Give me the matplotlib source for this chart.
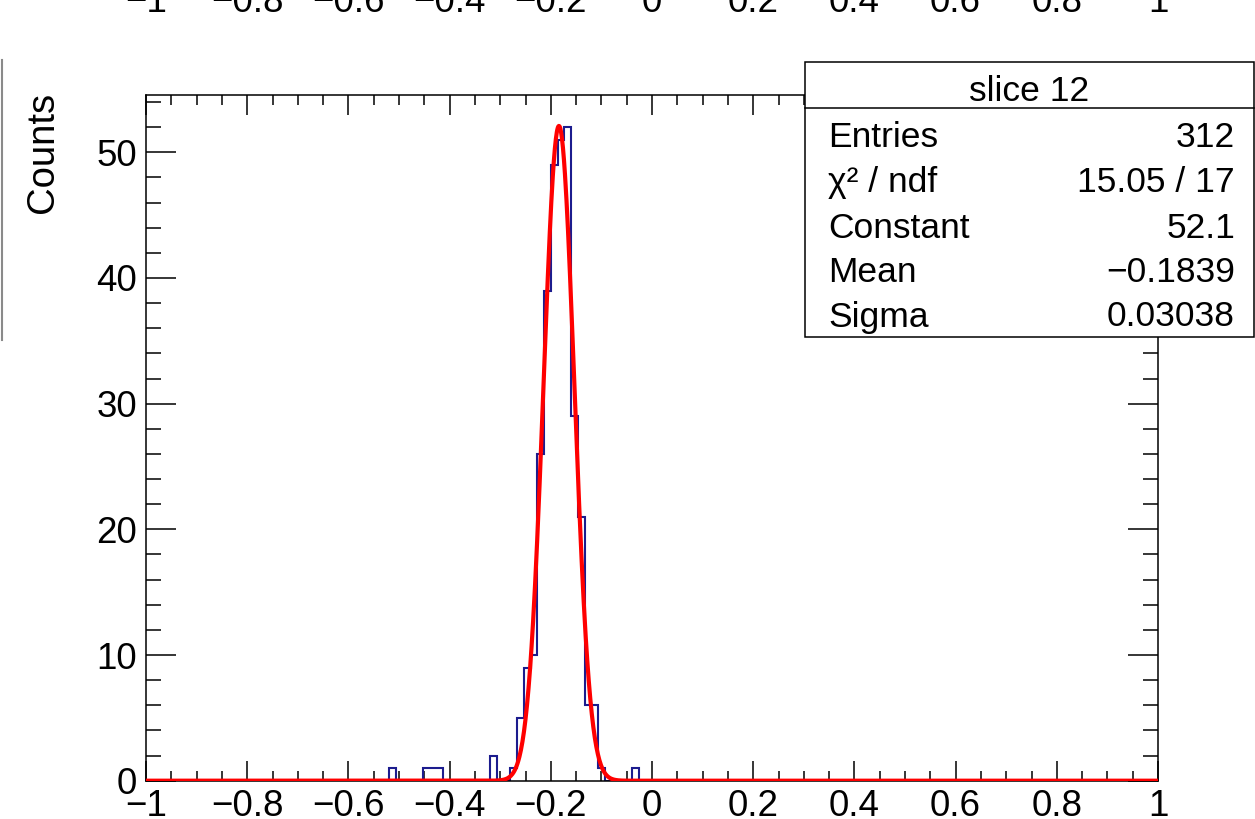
import numpy as np
import matplotlib
matplotlib.use("Agg")
import matplotlib.pyplot as plt
from matplotlib.ticker import MultipleLocator, FixedLocator
from matplotlib.patches import Rectangle
from matplotlib.lines import Line2D
from matplotlib.transforms import blended_transform_factory

plt.rcParams['font.family'] = ['Liberation Sans', 'DejaVu Sans']

# ---------------- data ----------------
n_bins = 150
x_min, x_max = -1.0, 1.0
filled_bins = [36, 41, 42, 43, 51, 54, 55, 56, 57, 58, 59, 60, 61, 62, 63, 64, 65, 66, 67, 72]
filled_counts = [1, 1, 1, 1, 2, 1, 5, 9, 10, 26, 39, 49, 51, 52, 29, 21, 6, 6, 1, 1]

fit_constant = 52.1
fit_mean = -0.1839
fit_sigma = 0.03038

x_ticks = [-1, -0.8, -0.6, -0.4, -0.2, 0, 0.2, 0.4, 0.6, 0.8, 1]
x_tick_labels = ["\u22121", "\u22120.8", "\u22120.6", "\u22120.4", "\u22120.2", "0",
                 "0.2", "0.4", "0.6", "0.8", "1"]
y_ticks = [0, 10, 20, 30, 40, 50]
y_max = 54.6

stats_title = "slice 12"
stats_names = ["Entries", "\u03c7\u00b2 / ndf", "Constant", "Mean", "Sigma"]
stats_values = ["312", "15.05 / 17", "52.1", "\u22120.1839", "0.03038"]
y_title = "Counts"

# ---------------- figure ----------------
W, H = 1255, 819
fig = plt.figure(figsize=(W / 100, H / 100), dpi=100)
fig.patch.set_facecolor("white")

def fx(px):
    return px / W

def fy(py):
    return 1 - py / H

ax = fig.add_axes([fx(146), fy(780.7), fx(1158) - fx(146), fy(94.5) - fy(780.7)])

counts = np.zeros(n_bins)
counts[filled_bins] = filled_counts
edges = np.linspace(x_min, x_max, n_bins + 1)
ax.stairs(counts, edges, color="#1c1c8e", lw=1.5, zorder=2)

x_fit = np.linspace(x_min, x_max, 2001)
y_fit = fit_constant * np.exp(-0.5 * ((x_fit - fit_mean) / fit_sigma) ** 2)
ax.plot(x_fit, y_fit, color="#ff0000", lw=3.0, zorder=3)

ax.set_xlim(x_min, x_max)
ax.set_ylim(0, y_max)

ax.xaxis.set_major_locator(FixedLocator(x_ticks))
ax.set_xticklabels(x_tick_labels)
ax.xaxis.set_minor_locator(MultipleLocator(0.05))
ax.yaxis.set_major_locator(FixedLocator(y_ticks))
ax.yaxis.set_minor_locator(MultipleLocator(2))

for s in ax.spines.values():
    s.set_linewidth(1.1)

ax.tick_params(axis="both", which="both", direction="in", top=True, right=True,
               width=1.1, labelsize=26.5, colors="black")
ax.tick_params(axis="x", which="major", length=14.5, pad=6)
ax.tick_params(axis="x", which="minor", length=7.2)
ax.tick_params(axis="y", which="major", length=21.6, pad=6.5)
ax.tick_params(axis="y", which="minor", length=10.8)

# y title
fig.text(fx(43), fy(92), y_title, rotation=90, ha="center", va="top", fontsize=27.5)

# cut-off tick labels of the pad above
trans = blended_transform_factory(ax.transData, fig.transFigure)
for v, lab in zip(x_ticks, x_tick_labels):
    fig.text(v, fy(12), lab, transform=trans, ha="center", va="baseline", fontsize=26.5)

# grey line at the left edge (neighbouring pad)
fig.add_artist(Line2D([fx(1.5), fx(1.5)], [fy(60), fy(340)], color="#8a8a8a", lw=1.5))

# stats box
bx0, bx1, by0, by1, bsep = 805, 1253.5, 62, 337, 108
fig.add_artist(Rectangle((fx(bx0), fy(by1)), fx(bx1) - fx(bx0), fy(by0) - fy(by1),
                         facecolor="white", edgecolor="black", lw=1.1, zorder=5))
fig.add_artist(Line2D([fx(bx0), fx(bx1)], [fy(bsep), fy(bsep)], color="black", lw=1.1, zorder=6))
fig.text(fx((bx0 + bx1) / 2), fy(101), stats_title, ha="center", va="baseline",
         fontsize=25.5, zorder=7)
baselines = [147, 192, 237.5, 282.5, 326.5]
for name, val, b in zip(stats_names, stats_values, baselines):
    fig.text(fx(828), fy(b), name, ha="left", va="baseline", fontsize=25.5, zorder=7)
    fig.text(fx(1235), fy(b), val, ha="right", va="baseline", fontsize=25.5, zorder=7)

fig.savefig("out.png", dpi=100)
